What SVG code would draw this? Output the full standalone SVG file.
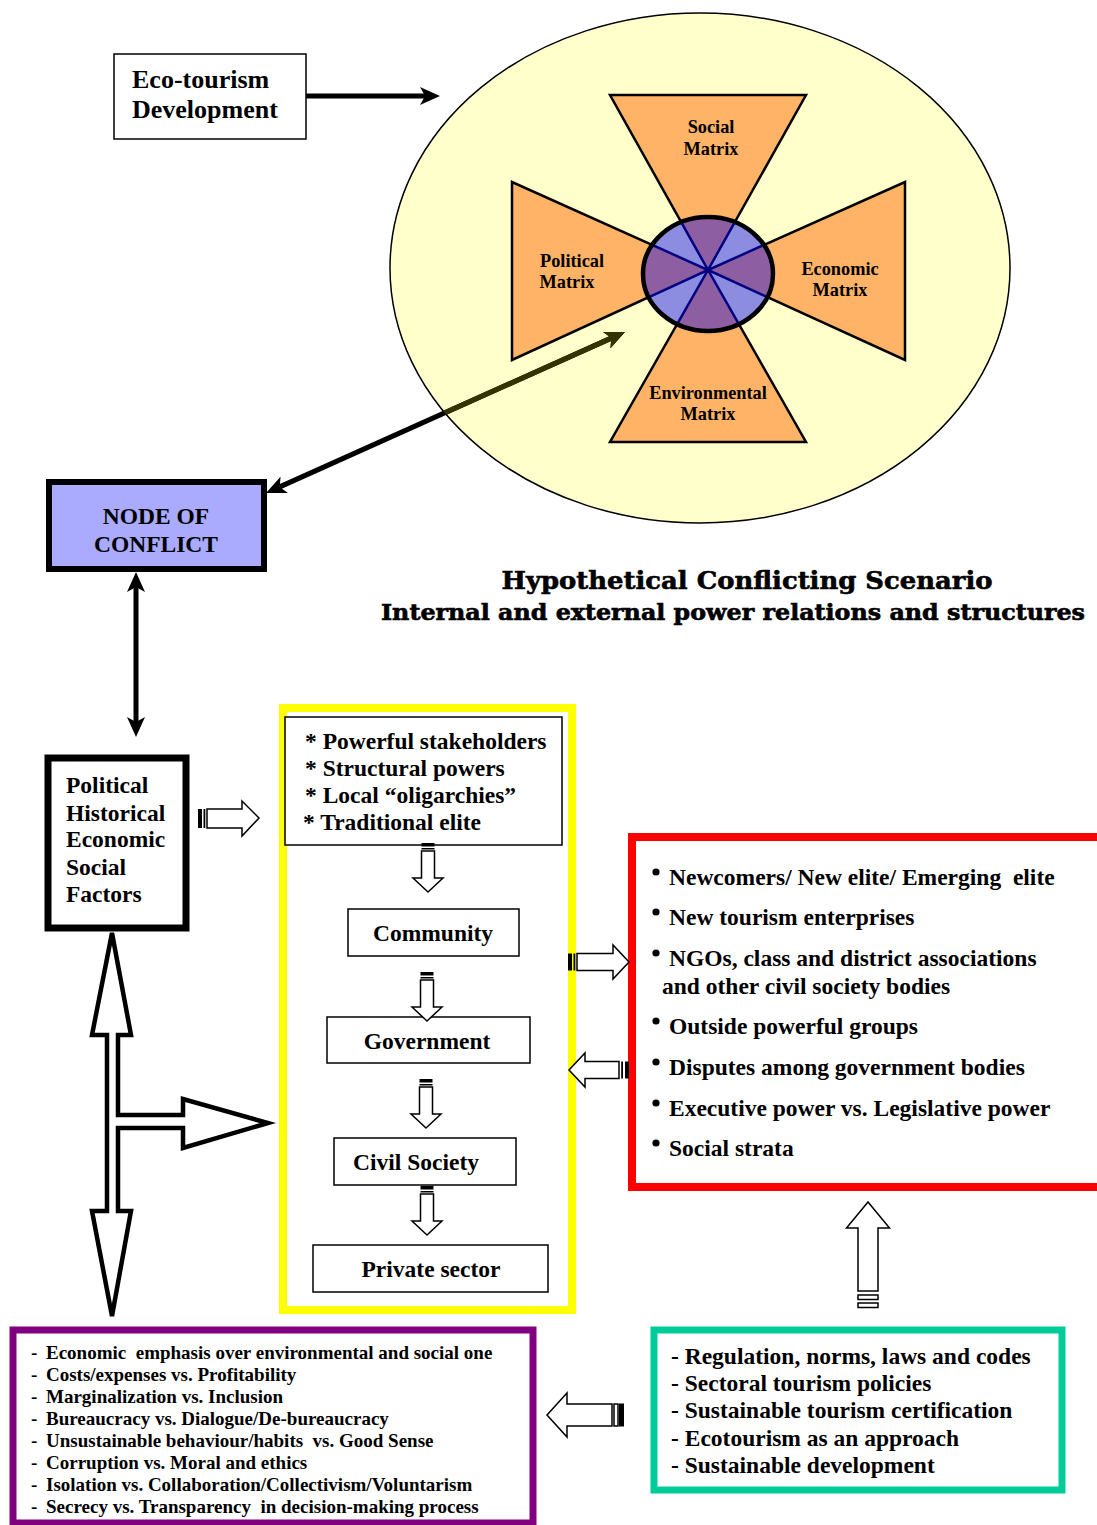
<svg xmlns="http://www.w3.org/2000/svg" width="1097" height="1525" viewBox="0 0 1097 1525">
  <defs>
    <style>
      text { white-space: pre; }
      .t { font-family: "Liberation Serif", "Times New Roman", serif; font-weight: bold; fill: #000; }
      .title { font-family: "DejaVu Serif", "Liberation Serif", serif; font-weight: bold; fill: #000; stroke: #000; stroke-width: 0.6; }
      .box { fill: #fff; stroke: #000; stroke-width: 1.5; }
      .tri { fill: #FFB366; stroke: #000; stroke-width: 2.5; stroke-linejoin: miter; }
      .blk { fill: none; stroke: #000; stroke-width: 5; }
      .olive { fill: none; stroke: #333300; stroke-width: 5; }
      .hollow { fill: #fff; stroke: #000; stroke-width: 1.5; stroke-linejoin: miter; }
    </style>
    <marker id="ah" viewBox="0 0 20 18" refX="5" refY="9" markerWidth="20" markerHeight="18" markerUnits="userSpaceOnUse" orient="auto-start-reverse">
      <path d="M0,0 L20,9 L0,18 L5,9 Z" fill="#000"/>
    </marker>
    <marker id="ah-olive" viewBox="0 0 20 18" refX="5" refY="9" markerWidth="20" markerHeight="18" markerUnits="userSpaceOnUse" orient="auto-start-reverse">
      <path d="M0,0 L20,9 L0,18 L5,9 Z" fill="#333300"/>
    </marker>
    <clipPath id="bigEllipse">
      <ellipse cx="700" cy="268" rx="310" ry="255"/>
    </clipPath>
    <clipPath id="hub">
      <ellipse cx="708" cy="274" rx="65" ry="57"/>
    </clipPath>
    <!-- small striped block arrow pointing down, top of stripes at origin -->
    <g id="down-arrow">
      <rect x="-6.5" y="0" width="13" height="3.5" fill="#000"/>
      <rect x="-6.5" y="5" width="13" height="1.5" fill="#000"/>
      <path class="hollow" d="M-6.5,8 V35 H-15 L0,49 L15,35 H6.5 V8 Z"/>
    </g>
  </defs>

  <!-- background -->
  <rect x="0" y="0" width="1097" height="1525" fill="#fff"/>

  <!-- matrix ellipse -->
  <g id="matrix">
    <ellipse cx="700" cy="268" rx="310" ry="255" fill="#FFFFCC" stroke="#000" stroke-width="1.5"/>
    <polygon class="tri" points="610,95 806,95 708,270"/>
    <polygon class="tri" points="610,442 806,442 708,270"/>
    <polygon class="tri" points="512,182 512,360 708,270"/>
    <polygon class="tri" points="905,182 905,360 708,270"/>
    <g clip-path="url(#hub)">
      <ellipse cx="708" cy="274" rx="65" ry="57" fill="#8C8CE0"/>
      <polygon points="610,95 806,95 708,270" fill="#8E5EA3"/>
      <polygon points="610,442 806,442 708,270" fill="#8E5EA3"/>
      <polygon points="512,182 512,360 708,270" fill="#8E5EA3"/>
      <polygon points="905,182 905,360 708,270" fill="#8E5EA3"/>
      <g stroke="#000080" stroke-width="2.5" fill="none">
        <polyline points="610,95 708,270 806,95"/>
        <polyline points="610,442 708,270 806,442"/>
        <polyline points="512,182 708,270 512,360"/>
        <polyline points="905,182 708,270 905,360"/>
      </g>
    </g>
    <ellipse cx="708" cy="274" rx="65" ry="57" fill="none" stroke="#000" stroke-width="4.5"/>
    <text class="t" font-size="18.3" text-anchor="middle"><tspan x="711" y="133">Social</tspan><tspan x="711" y="155">Matrix</tspan></text>
    <text class="t" font-size="18.3" text-anchor="middle"><tspan x="572" y="267">Political</tspan><tspan x="567" y="288">Matrix</tspan></text>
    <text class="t" font-size="18.3" text-anchor="middle"><tspan x="840" y="275">Economic</tspan><tspan x="840" y="296">Matrix</tspan></text>
    <text class="t" font-size="18.3" text-anchor="middle"><tspan x="708" y="399">Environmental</tspan><tspan x="708" y="420">Matrix</tspan></text>
  </g>

  <!-- eco-tourism -->
  <g id="eco-tourism">
    <rect class="box" x="114" y="54" width="192" height="85"/>
    <text class="t" font-size="26"><tspan x="132" y="88">Eco-tourism</tspan><tspan x="132" y="118">Development</tspan></text>
  </g>

  <!-- node of conflict -->
  <g id="node-of-conflict">
    <rect x="49" y="482" width="215" height="87" fill="#AAAAFF" stroke="#000" stroke-width="6"/>
    <text class="t" font-size="23.5" text-anchor="middle"><tspan x="156" y="524">NODE OF</tspan><tspan x="156" y="552">CONFLICT</tspan></text>
  </g>

  <!-- factors -->
  <g id="factors">
    <rect x="48" y="758" width="138" height="170" fill="#fff" stroke="#000" stroke-width="7"/>
    <text class="t" font-size="23.5">
      <tspan x="66" y="793">Political</tspan>
      <tspan x="66" y="821">Historical</tspan>
      <tspan x="66" y="847">Economic</tspan>
      <tspan x="66" y="875">Social</tspan>
      <tspan x="66" y="902">Factors</tspan>
    </text>
  </g>

  <!-- power structures (yellow frame) -->
  <g id="power-structures">
    <rect x="283" y="708" width="289" height="602" fill="#fff" stroke="#FFFF00" stroke-width="8"/>
    <rect class="box" x="285" y="717" width="277" height="128"/>
    <text class="t" font-size="23.5"><tspan x="305" y="749">* Powerful stakeholders</tspan></text>
    <text class="t" font-size="23.5"><tspan x="305" y="776">* Structural powers</tspan></text>
    <text class="t" font-size="23.5"><tspan x="305" y="803">* Local “oligarchies”</tspan></text>
    <text class="t" font-size="23.5"><tspan x="303" y="830">* Traditional elite</tspan></text>
  </g>
  <g id="community">
    <rect class="box" x="348" y="909" width="171" height="47"/>
    <text class="t" font-size="23.5" text-anchor="middle" x="433" y="941">Community</text>
  </g>
  <g id="government">
    <rect class="box" x="327" y="1017" width="203" height="46"/>
    <text class="t" font-size="23.5" text-anchor="middle" x="427" y="1049">Government</text>
  </g>
  <g id="civil-society">
    <rect class="box" x="334" y="1138" width="182" height="47"/>
    <text class="t" font-size="23.5" text-anchor="middle" x="416" y="1170">Civil Society</text>
  </g>
  <g id="private-sector">
    <rect class="box" x="313" y="1245" width="235" height="47"/>
    <text class="t" font-size="23.5" text-anchor="middle" x="431" y="1277">Private sector</text>
  </g>

  <!-- emerging actors (red frame) -->
  <g id="emerging-actors">
    <rect x="632" y="837" width="500" height="350" fill="#fff" stroke="#FF0000" stroke-width="8"/>
    <g fill="#000">
      <circle cx="656" cy="872" r="3.6"/>
      <circle cx="656" cy="912" r="3.6"/>
      <circle cx="656" cy="953" r="3.6"/>
      <circle cx="656" cy="1021" r="3.6"/>
      <circle cx="656" cy="1062" r="3.6"/>
      <circle cx="656" cy="1103" r="3.6"/>
      <circle cx="656" cy="1143" r="3.6"/>
    </g>
    <g class="t" font-size="23.5">
      <text x="669" y="885">Newcomers/ New elite/ Emerging  elite</text>
      <text x="669" y="925">New tourism enterprises</text>
      <text x="669" y="966">NGOs, class and district associations</text>
      <text x="662" y="994">and other civil society bodies</text>
      <text x="669" y="1034">Outside powerful groups</text>
      <text x="669" y="1075">Disputes among government bodies</text>
      <text x="669" y="1116">Executive power vs. Legislative power</text>
      <text x="669" y="1156">Social strata</text>
    </g>
  </g>

  <!-- regulation (green frame) -->
  <g id="regulation">
    <rect x="654" y="1330" width="408" height="160" fill="#fff" stroke="#00CC99" stroke-width="7"/>
    <g class="t" font-size="23.5">
      <text x="671" y="1364">- Regulation, norms, laws and codes</text>
      <text x="671" y="1391">- Sectoral tourism policies</text>
      <text x="671" y="1418">- Sustainable tourism certification</text>
      <text x="671" y="1446">- Ecotourism as an approach</text>
      <text x="671" y="1473">- Sustainable development</text>
    </g>
  </g>

  <!-- tensions (purple frame) -->
  <g id="tensions">
    <rect x="13" y="1330" width="520" height="193" fill="#fff" stroke="#800080" stroke-width="7"/>
    <g class="t" font-size="19">
      <text x="31" y="1359">-</text><text x="46" y="1359">Economic  emphasis over environmental and social one</text>
      <text x="31" y="1381">-</text><text x="46" y="1381">Costs/expenses vs. Profitability</text>
      <text x="31" y="1403">-</text><text x="46" y="1403">Marginalization vs. Inclusion</text>
      <text x="31" y="1425">-</text><text x="46" y="1425">Bureaucracy vs. Dialogue/De-bureaucracy</text>
      <text x="31" y="1447">-</text><text x="46" y="1447">Unsustainable behaviour/habits  vs. Good Sense</text>
      <text x="31" y="1469">-</text><text x="46" y="1469">Corruption vs. Moral and ethics</text>
      <text x="31" y="1491">-</text><text x="46" y="1491">Isolation vs. Collaboration/Collectivism/Voluntarism</text>
      <text x="31" y="1513">-</text><text x="46" y="1513">Secrecy vs. Transparency  in decision-making process</text>
    </g>
  </g>

  <!-- title -->
  <g id="title">
    <text class="title" font-size="25" text-anchor="middle" x="747" y="589" textLength="491" lengthAdjust="spacingAndGlyphs">Hypothetical Conflicting Scenario</text>
    <text class="title" font-size="21.5" text-anchor="middle" x="733" y="620" textLength="704" lengthAdjust="spacingAndGlyphs">Internal and external power relations and structures</text>
  </g>

  <!-- connectors -->
  <g id="connectors">
    <!-- eco-tourism to matrix -->
    <line class="blk" x1="306" y1="96" x2="425" y2="96" stroke-width="6" marker-end="url(#ah)"/>
    <!-- node of conflict to matrix hub -->
    <line class="blk" x1="279.7" y1="486.9" x2="611.3" y2="338.1" marker-start="url(#ah)" marker-end="url(#ah)"/>
    <g clip-path="url(#bigEllipse)">
      <line class="olive" x1="279.7" y1="486.9" x2="611.3" y2="338.1" marker-end="url(#ah-olive)"/>
    </g>
    <!-- node of conflict to factors -->
    <line class="blk" x1="136" y1="587" x2="136" y2="722" marker-start="url(#ah)" marker-end="url(#ah)"/>

    <!-- hollow T arrow from factors -->
    <path d="M112,933 L131,1035 L118,1035 L118,1115 L183,1115 L183,1099 L268,1123 L183,1148 L183,1128 L118,1128 L118,1211 L131,1211 L112,1316 L92,1211 L107,1211 L107,1035 L92,1035 Z" fill="#fff" stroke="#000" stroke-width="4.5" stroke-linejoin="miter"/>

    <!-- factors to power structures -->
    <rect x="198" y="809" width="4" height="19" fill="#000"/>
    <rect x="203.5" y="809" width="1.8" height="19" fill="#000"/>
    <path class="hollow" d="M207,809 H242 V801 L259,818 L242,836 V828 H207 Z"/>

    <!-- chain inside the power structures frame -->
    <use href="#down-arrow" x="428" y="843"/>
    <use href="#down-arrow" x="427" y="972"/>
    <use href="#down-arrow" x="426" y="1079"/>
    <use href="#down-arrow" x="427" y="1186"/>

    <!-- power structures to emerging actors -->
    <rect x="568" y="953.5" width="4" height="17" fill="#000"/>
    <rect x="573.5" y="953.5" width="1.8" height="17" fill="#000"/>
    <path class="hollow" d="M577,953.5 H613 V945 L629,962 L613,979 V970.5 H577 Z"/>

    <!-- emerging actors to power structures -->
    <rect x="625" y="1061.5" width="4" height="17" fill="#000"/>
    <rect x="621.2" y="1061.5" width="1.8" height="17" fill="#000"/>
    <path class="hollow" d="M619,1061.5 H585 V1053 L569,1070 L585,1087 V1078.5 H619 Z"/>

    <!-- regulation to emerging actors -->
    <path class="hollow" d="M858,1291 V1228 H846.5 L868,1202 L889.5,1228 H878 V1291 Z"/>
    <rect class="hollow" x="858" y="1295" width="20" height="4.5"/>
    <rect class="hollow" x="858" y="1303" width="20" height="4.5"/>

    <!-- regulation to tensions -->
    <path class="hollow" d="M612,1404 H567 V1393 L547,1415 L567,1437 V1426 H612 Z"/>
    <rect class="hollow" x="614" y="1404" width="4" height="22"/>
    <rect x="619.5" y="1404" width="4" height="22" fill="#000" stroke="#000" stroke-width="1"/>
  </g>
</svg>
